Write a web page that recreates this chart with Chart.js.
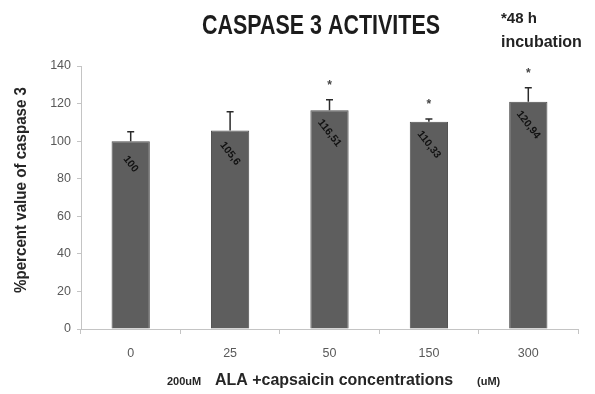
<!DOCTYPE html>
<html>
<head>
<meta charset="utf-8">
<script src="https://cdn.jsdelivr.net/npm/chart.js@4.4.0/dist/chart.umd.min.js"></script>
<style>
    body { margin: 0; background: #fff; }
    #wrap { width: 595px; height: 394px; }
</style>
</head>
<body>
<div id="wrap"><canvas id="caspaseChart" width="595" height="394"></canvas></div>
<script>
// datos
const concentrations = ['0', '25', '50', '150', '300'];
const caspaseValues = [100, 105.6, 116.51, 110.33, 120.94];
const errorValues = [5, 10, 5.5, 1.5, 7.5];
const valueLabels = ['100', '105,6', '116,51', '110,33', '120,94'];
const significant = [false, false, true, true, true];
const yTicks = [0, 20, 40, 60, 80, 100, 120, 140];

const ctx = document.getElementById('caspaseChart').getContext('2d');

function drawText(c, text, x, y, font, color, align, maxWidth) {
    c.font = font;
    c.fillStyle = color;
    c.textAlign = align || 'center';
    c.textBaseline = 'middle';
    if (maxWidth) {
        c.fillText(text, x, y, maxWidth);
    } else {
        c.fillText(text, x, y);
    }
}

// barras de error, etiquetas giradas y asteriscos
const extrasPlugin = {
    id: 'extras',
    afterDatasetsDraw(chart) {
        const c = chart.ctx;
        const yScale = chart.scales.y;
        const bars = chart.getDatasetMeta(0).data;
        c.save();
        bars.forEach((bar, i) => {
            const topY = yScale.getPixelForValue(caspaseValues[i] + errorValues[i]);
            c.strokeStyle = '#2b2b2b';
            c.lineWidth = 1.5;
            c.beginPath();
            c.moveTo(bar.x, bar.y);
            c.lineTo(bar.x, topY);
            c.moveTo(bar.x - 3.5, topY);
            c.lineTo(bar.x + 3.5, topY);
            c.stroke();

            if (significant[i]) {
                drawText(c, '*', bar.x, topY - 14, 'bold 12px "Liberation Sans"', '#444');
            }

            c.save();
            c.translate(bar.x, bar.y + 23);
            c.rotate(52 * Math.PI / 180);
            drawText(c, valueLabels[i], 0, 0, 'bold 10.5px "Liberation Sans"', '#111');
            c.restore();
        });
        c.restore();
    },
    afterDraw(chart) {
        const c = chart.ctx;
        c.save();
        drawText(c, 'CASPASE 3 ACTIVITES', 321, 27, 'bold 27px "Liberation Sans"', '#1c1c1c', 'center', 238);
        drawText(c, '*48 h', 501, 19, 'bold 15px "Liberation Sans"', '#222', 'left', 42);
        drawText(c, 'incubation', 501, 43, 'bold 16px "Liberation Sans"', '#222', 'left', 93);

        // titulo eje y
        c.save();
        c.translate(21, 190);
        c.rotate(-Math.PI / 2);
        drawText(c, '%percent value of caspase 3', 0, 0, 'bold 17px "Liberation Sans"', '#262626', 'center', 206);
        c.restore();

        // titulo eje x
        drawText(c, '200uM', 167, 382, 'bold 11px "Liberation Sans"', '#262626', 'left', 40);
        drawText(c, 'ALA +capsaicin concentrations', 215, 381, 'bold 16px "Liberation Sans"', '#262626', 'left', 238);
        drawText(c, '(uM)', 477, 382, 'bold 11px "Liberation Sans"', '#262626', 'left', 28);
        c.restore();
    }
};

const myChart = new Chart(ctx, {
    type: 'bar',
    data: {
        labels: concentrations,
        datasets: [{
            label: 'Caspase 3',
            data: caspaseValues,
            backgroundColor: '#5e5e5e',
            borderColor: '#4f4f4f',
            borderWidth: 1,
            categoryPercentage: 1,
            barPercentage: 0.385
        }]
    },
    options: {
        responsive: false,
        animation: false,
        layout: { padding: { top: 66, right: 17, left: 0, bottom: 0 } },
        plugins: {
            legend: { display: false },
            title: { display: false },
            tooltip: { enabled: false }
        },
        scales: {
            x: {
                afterFit(scale) { scale.height = 65; },
                grid: { offset: true, drawOnChartArea: false, tickLength: 5, color: '#c4c4c4' },
                border: { color: '#c4c4c4', width: 1 },
                ticks: { color: '#595959', font: { family: 'Liberation Sans', size: 12.5 }, padding: 12 }
            },
            y: {
                min: 0,
                max: 140,
                afterFit(scale) { scale.width = 81; },
                afterBuildTicks(scale) { scale.ticks = yTicks.map(v => ({ value: v })); },
                grid: { drawOnChartArea: false, tickLength: 4, color: '#c4c4c4' },
                border: { color: '#c4c4c4', width: 1 },
                ticks: { color: '#595959', font: { family: 'Liberation Sans', size: 12.5 }, padding: 6 }
            }
        }
    },
    plugins: [extrasPlugin]
});
</script>
</body>
</html>
